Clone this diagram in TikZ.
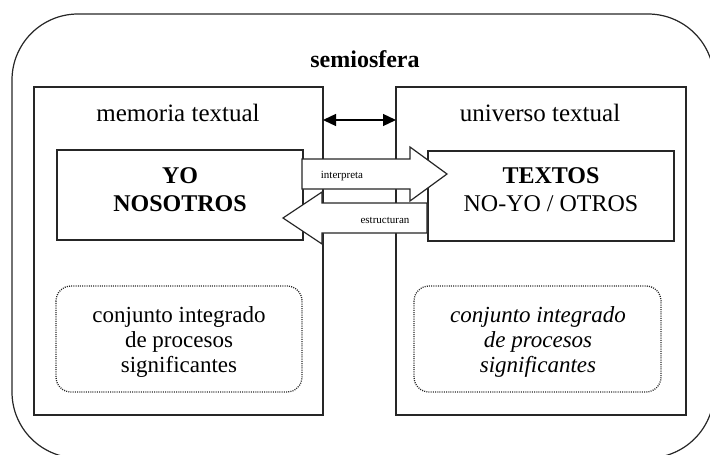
\documentclass[tikz,border=0pt]{standalone}
\usepackage{fontspec}
\setmainfont{Liberation Serif}
\usetikzlibrary{arrows.meta}
\tikzset{
  boxline/.style={draw=black!85, line width=1.3pt},
  plainbox/.style={boxline, fill=white},
  dotbox/.style={draw=black!85, line width=1.3pt, dash pattern=on 1pt off 1.2pt, rounded corners=15pt},
  bigarrow/.style={draw=black!85, line width=1.2pt, fill=white, line join=miter},
  lbl/.style={inner sep=0pt, anchor=base},
  bigtxt/.style={lbl, font=\fontsize{25}{28}\selectfont},
  boldtxt/.style={lbl, font=\fontsize{24}{28}\selectfont\bfseries},
  dottxt/.style={lbl, font=\fontsize{23}{25}\selectfont},
  smalltxt/.style={lbl, font=\fontsize{11}{12}\selectfont},
}
\begin{document}
\begin{tikzpicture}[x=1pt, y=-1pt]
\useasboundingbox (0,0) rectangle (710,455);
\clip (0,0) rectangle (710,455);
% outer semiosphere
\draw[boxline, line width=1.2pt, rounded corners=66pt] (12,14) rectangle (714,458);
\node[boldtxt] (semio) at (365,67) {semiosfera};
% two main boxes
\coordinate (lbA) at (34,87); \coordinate (lbB) at (323,415);
\coordinate (rbA) at (396,87); \coordinate (rbB) at (686,415);
\draw[boxline] (lbA) rectangle (lbB);
\draw[boxline] (rbA) rectangle (rbB);
\node[bigtxt] (mem) at (178,121) {memoria textual};
\node[bigtxt] (uni) at (540,121) {universo textual};
% double arrow between boxes
\coordinate (dl) at (323,120); \coordinate (dr) at (396,120);
\draw[line width=1.3pt, {Triangle[length=13pt,width=12pt]}-{Triangle[length=13pt,width=12pt]}] (dl) -- (dr);
% inner boxes
\draw[plainbox] (57,150) rectangle (303,240);
\draw[plainbox] (428,151) rectangle (674,241);
\node[boldtxt] (yo) at (180,183) {YO};
\node[boldtxt] (nos) at (180,211) {NOSOTROS};
\node[boldtxt] (tex) at (551,183) {TEXTOS};
\node[bigtxt, font=\fontsize{24}{28}\selectfont] (noyo) at (551,211) {NO-YO / OTROS};
% dotted boxes
\draw[dotbox] (56,286) rectangle (302,392);
\draw[dotbox] (414,286) rectangle (661,392);
\node[dottxt] (c1) at (179,322) {conjunto integrado};
\node[dottxt] (c2) at (179,347) {de procesos};
\node[dottxt] (c3) at (179,372) {significantes};
\node[dottxt, font=\fontsize{23}{25}\selectfont\itshape] (d1) at (538,322) {conjunto integrado};
\node[dottxt, font=\fontsize{23}{25}\selectfont\itshape] (d2) at (538,347) {de procesos};
\node[dottxt, font=\fontsize{23}{25}\selectfont\itshape] (d3) at (538,372) {significantes};
% block arrows
\draw[bigarrow] (302,159) -- (410,159) -- (410,147) -- (447,174) -- (410,201) -- (410,189) -- (302,189) -- cycle;
\draw[bigarrow] (427,203) -- (322,203) -- (322,192) -- (283,218) -- (322,244) -- (322,233) -- (427,233) -- cycle;
\node[smalltxt] (interp) at (342,178) {interpreta};
\node[smalltxt] (estr) at (385,223) {estructuran};
\end{tikzpicture}
\end{document}
